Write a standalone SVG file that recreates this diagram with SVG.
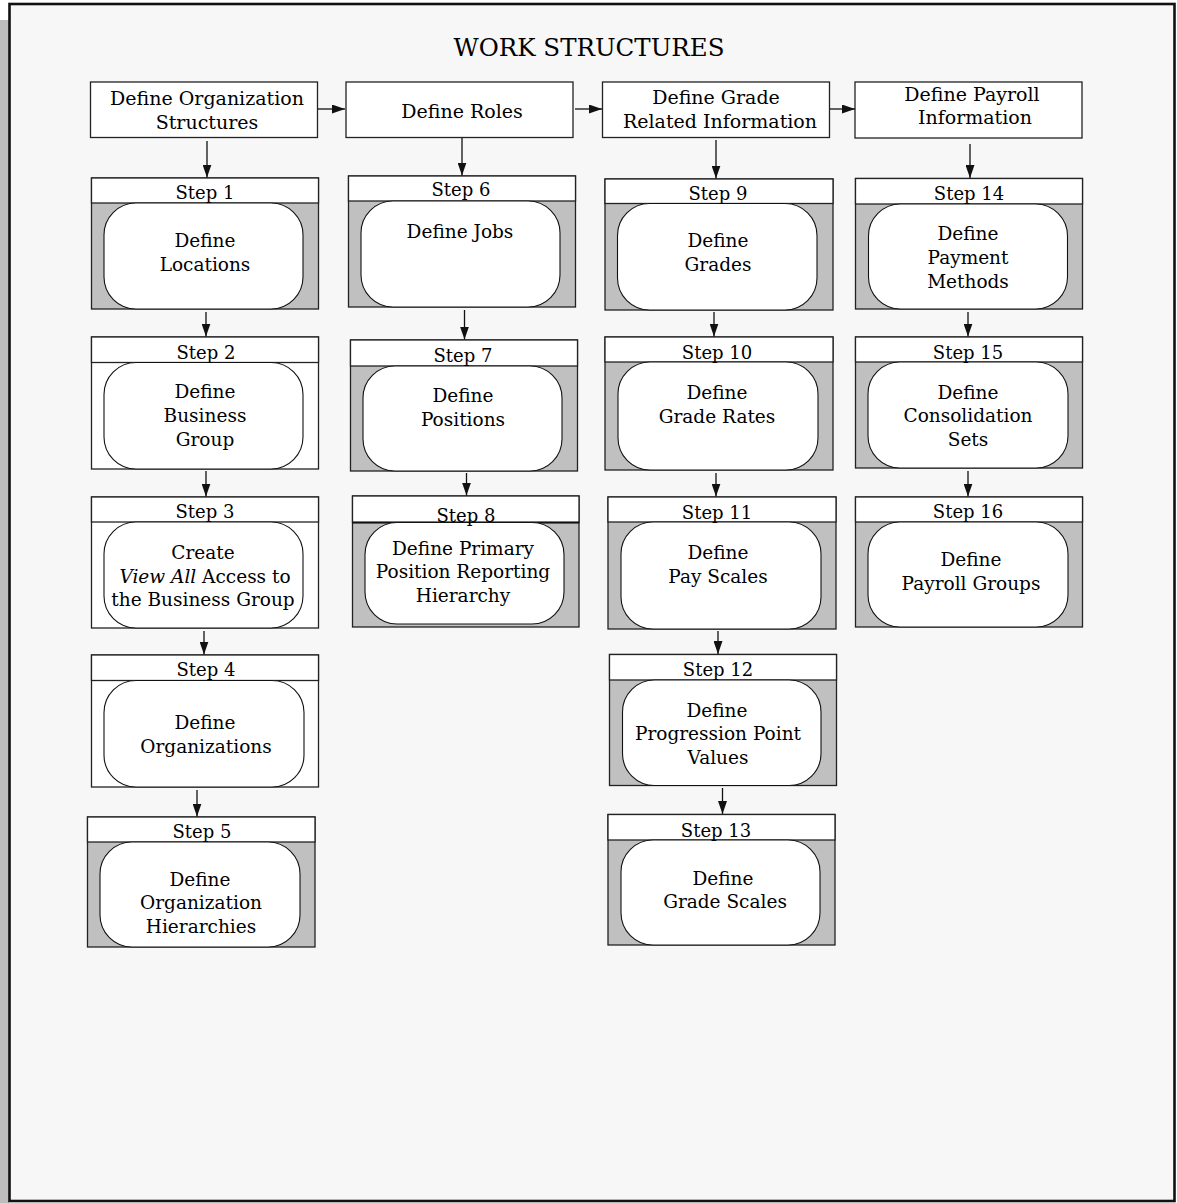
<svg xmlns="http://www.w3.org/2000/svg" width="1177" height="1203" viewBox="0 0 1177 1203">
  <style>
    text { font-family: "DejaVu Serif", "Liberation Serif", serif; font-size: 18.5px; fill: #000; text-anchor: middle; }
    .title { font-size: 24.5px; }
    .h { font-size: 19px; }
    .lbl { font-size: 18px; }
    .hdr { fill: #fff; stroke: #222; stroke-width: 1.3; }
    .box { stroke: #222; stroke-width: 1.3; }
    .gray { fill: #c0c0c0; }
    .white { fill: #fff; }
    .cap { fill: #fff; stroke: #222; stroke-width: 1.3; }
    .pill { fill: #fff; stroke: #111; stroke-width: 1.1; }
    .conn line { stroke: #111; stroke-width: 1.3; marker-end: url(#arrow); }
    .it { font-style: italic; }
  </style>
  <defs>
    <marker id="arrow" markerUnits="userSpaceOnUse" markerWidth="13" markerHeight="9" refX="13" refY="4.5" orient="auto">
      <path d="M0,0 L13,4.5 L0,9 z" fill="#111"/>
    </marker>
  </defs>

  <!-- page frame -->
  <rect x="0" y="20" width="9" height="1183" fill="#bdbdbd"/>
  <rect x="9.5" y="4" width="1165" height="1197" fill="#f7f7f7" stroke="#111" stroke-width="2.6"/>
  <text class="title" x="589" y="56">WORK STRUCTURES</text>

  <!-- group headers -->
  <g id="hdr-org">
    <rect class="hdr" x="90.5" y="82" width="227" height="55.5"/>
    <text class="h" x="207" y="105">Define Organization</text>
    <text class="h" x="207" y="129">Structures</text>
  </g>
  <g id="hdr-roles">
    <rect class="hdr" x="346" y="82" width="227" height="55.5"/>
    <text class="h" x="462" y="118">Define Roles</text>
  </g>
  <g id="hdr-grade">
    <rect class="hdr" x="602.5" y="82" width="227" height="55.5"/>
    <text class="h" x="716" y="104">Define Grade</text>
    <text class="h" x="720" y="128">Related Information</text>
  </g>
  <g id="hdr-payroll">
    <rect class="hdr" x="855" y="82" width="227" height="56"/>
    <text class="h" x="972" y="101">Define Payroll</text>
    <text class="h" x="975" y="124">Information</text>
  </g>

  <!-- column 1: organization structures -->
  <g id="step1">
    <rect class="box gray" x="91.5" y="178" width="227" height="131"/>
    <rect class="cap" x="91.5" y="178" width="227" height="25"/>
    <rect class="pill" x="104" y="203" width="199" height="106" rx="32" ry="32"/>
    <text class="lbl" x="205" y="199">Step 1</text>
    <text x="205" y="247">Define</text>
    <text x="205" y="271">Locations</text>
  </g>
  <g id="step2">
    <rect class="box white" x="91.5" y="337" width="227" height="132"/>
    <rect class="cap" x="91.5" y="337" width="227" height="25.5"/>
    <rect class="pill" x="104" y="362.5" width="199" height="106.5" rx="32" ry="32"/>
    <text class="lbl" x="206" y="359">Step 2</text>
    <text x="205" y="398">Define</text>
    <text x="205" y="422">Business</text>
    <text x="205" y="446">Group</text>
  </g>
  <g id="step3">
    <rect class="box white" x="91.5" y="497" width="227" height="131"/>
    <rect class="cap" x="91.5" y="497" width="227" height="25"/>
    <rect class="pill" x="104" y="522" width="199" height="106" rx="32" ry="32"/>
    <text class="lbl" x="205" y="518">Step 3</text>
    <text x="203" y="559">Create</text>
    <text x="205" y="583"><tspan class="it">View All</tspan> Access to</text>
    <text x="203" y="606">the Business Group</text>
  </g>
  <g id="step4">
    <rect class="box white" x="91.5" y="655" width="227" height="132"/>
    <rect class="cap" x="91.5" y="655" width="227" height="25.5"/>
    <rect class="pill" x="104" y="680.5" width="200" height="106.5" rx="32" ry="32"/>
    <text class="lbl" x="206" y="676">Step 4</text>
    <text x="205" y="729">Define</text>
    <text x="206" y="753">Organizations</text>
  </g>
  <g id="step5">
    <rect class="box gray" x="87.5" y="817" width="227.5" height="130"/>
    <rect class="cap" x="87.5" y="817" width="227.5" height="25"/>
    <rect class="pill" x="100" y="842" width="200" height="105" rx="32" ry="32"/>
    <text class="lbl" x="202" y="838">Step 5</text>
    <text x="200" y="886">Define</text>
    <text x="201" y="909">Organization</text>
    <text x="201" y="933">Hierarchies</text>
  </g>

  <!-- column 2: roles -->
  <g id="step6">
    <rect class="box gray" x="348.5" y="176" width="227" height="131"/>
    <rect class="cap" x="348.5" y="176" width="227" height="25"/>
    <rect class="pill" x="361" y="201" width="199" height="106" rx="32" ry="32"/>
    <text class="lbl" x="461" y="196">Step 6</text>
    <text x="460" y="238">Define Jobs</text>
  </g>
  <g id="step7">
    <rect class="box gray" x="350.5" y="340" width="227" height="131"/>
    <rect class="cap" x="350.5" y="340" width="227" height="26"/>
    <rect class="pill" x="363" y="366" width="199" height="105" rx="32" ry="32"/>
    <text class="lbl" x="463" y="362">Step 7</text>
    <text x="463" y="402">Define</text>
    <text x="463" y="426">Positions</text>
  </g>
  <g id="step8">
    <rect class="box gray" x="352.5" y="496" width="226.5" height="131"/>
    <rect class="cap" x="352.5" y="496" width="226.5" height="26.5"/>
    <line x1="352.5" y1="522.5" x2="579" y2="522.5" stroke="#111" stroke-width="2"/>
    <rect class="pill" x="365" y="522.5" width="199" height="101.5" rx="32" ry="32"/>
    <text class="lbl" x="466" y="522">Step 8</text>
    <text x="463" y="555">Define Primary</text>
    <text x="463" y="578">Position Reporting</text>
    <text x="463" y="602">Hierarchy</text>
  </g>

  <!-- column 3: grades -->
  <g id="step9">
    <rect class="box gray" x="605" y="179" width="228" height="131"/>
    <rect class="cap" x="605" y="179" width="228" height="24.5"/>
    <rect class="pill" x="617.5" y="203.5" width="199.5" height="106.5" rx="32" ry="32"/>
    <text class="lbl" x="718" y="200">Step 9</text>
    <text x="718" y="247">Define</text>
    <text x="718" y="271">Grades</text>
  </g>
  <g id="step10">
    <rect class="box gray" x="605" y="337" width="228" height="133"/>
    <rect class="cap" x="605" y="337" width="228" height="25"/>
    <rect class="pill" x="618" y="362" width="200" height="108" rx="32" ry="32"/>
    <text class="lbl" x="717" y="359">Step 10</text>
    <text x="717" y="399">Define</text>
    <text x="717" y="423">Grade Rates</text>
  </g>
  <g id="step11">
    <rect class="box gray" x="608" y="497" width="228" height="132"/>
    <rect class="cap" x="608" y="497" width="228" height="25"/>
    <rect class="pill" x="621" y="522" width="200" height="107" rx="32" ry="32"/>
    <text class="lbl" x="717" y="519">Step 11</text>
    <text x="718" y="559">Define</text>
    <text x="718" y="583">Pay Scales</text>
  </g>
  <g id="step12">
    <rect class="box gray" x="609.5" y="654.5" width="227" height="131"/>
    <rect class="cap" x="609.5" y="654.5" width="227" height="25.5"/>
    <rect class="pill" x="622.5" y="680" width="198.5" height="105.5" rx="32" ry="32"/>
    <text class="lbl" x="718" y="676">Step 12</text>
    <text x="717" y="717">Define</text>
    <text x="718" y="740">Progression Point</text>
    <text x="718" y="764">Values</text>
  </g>
  <g id="step13">
    <rect class="box gray" x="608" y="814.5" width="227" height="130.5"/>
    <rect class="cap" x="608" y="814.5" width="227" height="25.5"/>
    <rect class="pill" x="621" y="840" width="199" height="105" rx="32" ry="32"/>
    <text class="lbl" x="716" y="837">Step 13</text>
    <text x="723" y="885">Define</text>
    <text x="725" y="908">Grade Scales</text>
  </g>

  <!-- column 4: payroll -->
  <g id="step14">
    <rect class="box gray" x="855.5" y="178.5" width="227" height="130.5"/>
    <rect class="cap" x="855.5" y="178.5" width="227" height="25.5"/>
    <rect class="pill" x="868.5" y="204" width="199" height="105" rx="32" ry="32"/>
    <text class="lbl" x="969" y="200">Step 14</text>
    <text x="968" y="240">Define</text>
    <text x="968" y="264">Payment</text>
    <text x="968" y="288">Methods</text>
  </g>
  <g id="step15">
    <rect class="box gray" x="855.5" y="337" width="227" height="131"/>
    <rect class="cap" x="855.5" y="337" width="227" height="25"/>
    <rect class="pill" x="868" y="362" width="200" height="106" rx="32" ry="32"/>
    <text class="lbl" x="968" y="359">Step 15</text>
    <text x="968" y="399">Define</text>
    <text x="968" y="422">Consolidation</text>
    <text x="968" y="446">Sets</text>
  </g>
  <g id="step16">
    <rect class="box gray" x="855.5" y="497" width="227" height="130"/>
    <rect class="cap" x="855.5" y="497" width="227" height="25"/>
    <rect class="pill" x="868" y="522" width="200" height="105" rx="32" ry="32"/>
    <text class="lbl" x="968" y="518">Step 16</text>
    <text x="971" y="566">Define</text>
    <text x="971" y="590">Payroll Groups</text>
  </g>

  <!-- connectors -->
  <g id="connectors" class="conn">
    <line x1="318" y1="109" x2="345" y2="109"/>
    <line x1="575" y1="109" x2="602" y2="109"/>
    <line x1="830" y1="109" x2="855" y2="109"/>
    <line x1="207" y1="141" x2="207" y2="177.5"/>
    <line x1="462" y1="138" x2="462" y2="175.5"/>
    <line x1="716" y1="140" x2="716" y2="178.5"/>
    <line x1="970" y1="144" x2="970" y2="178"/>
    <line x1="206" y1="312" x2="206" y2="336.5"/>
    <line x1="206" y1="471" x2="206" y2="496.5"/>
    <line x1="204" y1="631" x2="204" y2="654.5"/>
    <line x1="197" y1="790" x2="197" y2="816.5"/>
    <line x1="464.5" y1="310" x2="464.5" y2="339.5"/>
    <line x1="466.5" y1="473" x2="466.5" y2="495.5"/>
    <line x1="714" y1="312" x2="714" y2="336.5"/>
    <line x1="716" y1="473" x2="716" y2="496.5"/>
    <line x1="718" y1="631" x2="718" y2="654"/>
    <line x1="722.5" y1="788" x2="722.5" y2="814"/>
    <line x1="968" y1="312" x2="968" y2="336.5"/>
    <line x1="968" y1="471" x2="968" y2="496.5"/>
  </g>
</svg>
